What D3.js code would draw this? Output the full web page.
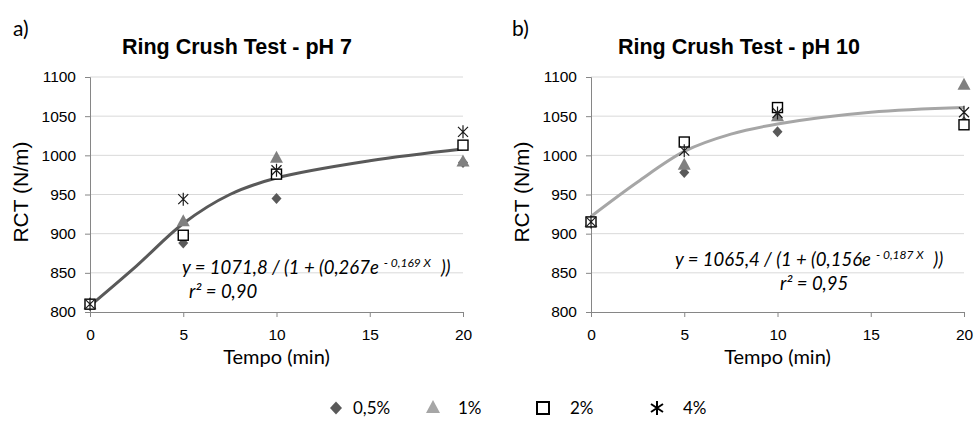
<!DOCTYPE html>
<html>
<head>
<meta charset="utf-8">
<script src="https://cdn.jsdelivr.net/npm/d3@7"></script>
<style>
  body { margin: 0; background: #fff; }
  svg { display: block; }
</style>
</head>
<body>
<div id="grafica"></div>
<script>
// data
var tempos = [0, 5, 10, 20];
var series = ["0,5%", "1%", "2%", "4%"];

// pH 7
var ph7_05 = [810, 888, 945, 991];
var ph7_1  = [810, 916, 997, 992];
var ph7_2  = [810, 898, 976, 1013];
var ph7_4  = [810, 944, 981, 1030];
var ph7_curveX = [0, 2.5, 5, 7.5, 10, 15, 20];
var ph7_curveY = [808, 859, 913, 950, 971, 993, 1008];

// pH 10
var ph10_05 = [915, 978, 1030, 1043];
var ph10_1  = [915, 988, 1050, 1090];
var ph10_2  = [915, 1017, 1061, 1039];
var ph10_4  = [915, 1006, 1054, 1055];
var ph10_curveX = [0, 2.5, 5, 7.5, 10, 15, 20];
var ph10_curveY = [922, 966, 1005, 1027, 1040, 1055, 1061];

var yTicks = [800, 850, 900, 950, 1000, 1050, 1100];
var xTicks = [0, 5, 10, 15, 20];

var W = 974, H = 432;
var svg = d3.select("#grafica")
  .append("svg")
  .attr("width", W)
  .attr("height", H);

var arial = "'Liberation Sans', Arial, sans-serif";
var calib = "Lato, 'Open Sans', sans-serif";

// marker drawing
function marker(g, type, cx, cy) {
  if (type == 0) {
    g.append("path")
      .attr("d", "M0,-5.5L5,0L0,5.5L-5,0Z")
      .attr("transform", `translate(${cx},${cy})`)
      .attr("fill", "#595959");
  } else if (type == 1) {
    g.append("path")
      .attr("d", "M0,-7L6.5,5L-6.5,5Z")
      .attr("transform", `translate(${cx},${cy})`)
      .attr("fill", "#808080");
  } else if (type == 2) {
    g.append("rect")
      .attr("x", cx - 5).attr("y", cy - 5)
      .attr("width", 10).attr("height", 10)
      .attr("fill", "#fff")
      .attr("stroke", "#000")
      .attr("stroke-width", 1.4);
  } else {
    g.append("path")
      .attr("d", "M-5,-5L5,5M-5,5L5,-5M0,-6.5L0,6.5")
      .attr("transform", `translate(${cx},${cy})`)
      .attr("stroke", "#1a1a1a")
      .attr("stroke-width", 1.2)
      .attr("fill", "none");
  }
}

function drawChart(o) {
  var x = d3.scaleLinear().domain([0, 20]).range([o.x0, o.x1]);
  var y = d3.scaleLinear().domain([800, 1100]).range([312, 77]);
  var g = svg.append("g");

  // gridlines
  g.selectAll(".grid")
    .data(yTicks.slice(1))
    .enter().append("line")
    .attr("x1", o.x0).attr("x2", o.x1)
    .attr("y1", d => y(d)).attr("y2", d => y(d))
    .attr("stroke", "#d9d9d9")
    .attr("stroke-width", 1);

  // y axis
  var ya = g.append("g")
    .attr("transform", `translate(${o.x0},0)`)
    .call(d3.axisLeft(y).tickValues(yTicks).tickFormat(d3.format("d")).tickSize(5).tickPadding(9));
  ya.select(".domain").attr("stroke", "#868686");
  ya.selectAll(".tick line").attr("stroke", "#868686");
  ya.selectAll("text").attr("font-family", arial).attr("font-size", 15.5).attr("fill", "#000");

  // x axis
  var xa = g.append("g")
    .attr("transform", `translate(0,312)`)
    .call(d3.axisBottom(x).tickValues(xTicks).tickSize(5).tickPadding(12));
  xa.select(".domain").attr("stroke", "#868686");
  xa.selectAll(".tick line").attr("stroke", "#868686");
  xa.selectAll("text").attr("font-family", arial).attr("font-size", 15.5).attr("fill", "#000");

  // fitted curve
  var pts = o.curveX.map((d, i) => [d, o.curveY[i]]);
  g.append("path")
    .datum(pts)
    .attr("fill", "none")
    .attr("stroke", o.curveColor)
    .attr("stroke-width", 3)
    .attr("d", d3.line()
      .x(d => x(d[0]))
      .y(d => y(d[1]))
      .curve(d3.curveCatmullRom));

  // points
  o.vals.forEach(function(arr, s) {
    arr.forEach(function(v, i) {
      marker(g, s, x(tempos[i]), y(v));
    });
  });

  // panel letter
  g.append("text")
    .attr("x", o.letterX).attr("y", 36)
    .attr("font-family", calib).attr("font-size", 21)
    .text(o.letter);

  // title
  g.append("text")
    .attr("x", o.titleX).attr("y", 54)
    .attr("text-anchor", "middle")
    .attr("font-family", arial).attr("font-size", 21.5).attr("font-weight", "bold")
    .text(o.title);

  // y title
  g.append("text")
    .attr("transform", `translate(${o.yTitleX},192) rotate(-90)`)
    .attr("text-anchor", "middle")
    .attr("font-family", arial).attr("font-size", 21)
    .text("RCT (N/m)");

  // x title
  g.append("text")
    .attr("x", (o.x0 + o.x1) / 2).attr("y", 364)
    .attr("text-anchor", "middle")
    .attr("font-family", calib).attr("font-size", 20)
    .text("Tempo (min)");

  // equation
  var eq = g.append("text")
    .attr("x", o.eqX).attr("y", o.eqY)
    .attr("font-family", calib).attr("font-size", 18.5).attr("font-style", "italic");
  eq.append("tspan").text(o.eqA);
  eq.append("tspan").attr("dx", 5).attr("dy", -7).attr("font-size", 12).text(o.eqSup);
  eq.append("tspan").attr("dx", 10).attr("dy", 7).text("))");

  g.append("text")
    .attr("x", o.r2X).attr("y", o.eqY + 24)
    .attr("font-family", calib).attr("font-size", 18.5).attr("font-style", "italic")
    .text(o.r2);
}

drawChart({
  x0: 90, x1: 463,
  vals: [ph7_05, ph7_1, ph7_2, ph7_4],
  curveX: ph7_curveX, curveY: ph7_curveY,
  curveColor: "#595959",
  letter: "a)", letterX: 13,
  title: "Ring Crush Test - pH 7", titleX: 237,
  yTitleX: 28,
  eqX: 182, eqY: 274, eqA: "y = 1071,8 / (1 + (0,267e", eqSup: "- 0,169 X",
  r2X: 189, r2: "r² = 0,90"
});

drawChart({
  x0: 591, x1: 964,
  vals: [ph10_05, ph10_1, ph10_2, ph10_4],
  curveX: ph10_curveX, curveY: ph10_curveY,
  curveColor: "#a6a6a6",
  letter: "b)", letterX: 512,
  title: "Ring Crush Test - pH 10", titleX: 739,
  yTitleX: 529,
  eqX: 675, eqY: 266, eqA: "y = 1065,4 / (1 + (0,156e", eqSup: "- 0,187 X",
  r2X: 780, r2: "r² = 0,95"
});

// legend
var legX = [336, 433, 543, 657];
var legTx = [353, 458, 570, 683];
var leg = svg.append("g");
series.forEach(function(s, i) {
  if (i == 0) {
    leg.append("path")
      .attr("d", "M0,-6.5L6,0L0,6.5L-6,0Z")
      .attr("transform", `translate(${legX[i]},408)`)
      .attr("fill", "#595959");
  } else if (i == 1) {
    leg.append("path")
      .attr("d", "M0,-7L7,6L-7,6Z")
      .attr("transform", `translate(${legX[i]},407)`)
      .attr("fill", "#a6a6a6");
  } else if (i == 2) {
    leg.append("rect")
      .attr("x", legX[i] - 6).attr("y", 402)
      .attr("width", 12).attr("height", 12)
      .attr("fill", "#fff").attr("stroke", "#000").attr("stroke-width", 2);
  } else {
    leg.append("path")
      .attr("d", "M-6,-4L6,4M-6,4L6,-4M0,-7L0,7")
      .attr("transform", `translate(${legX[i]},408)`)
      .attr("stroke", "#000").attr("stroke-width", 2).attr("fill", "none");
  }
  leg.append("text")
    .attr("x", legTx[i]).attr("y", 414)
    .attr("font-family", calib).attr("font-size", 17)
    .text(s);
});
</script>
</body>
</html>
